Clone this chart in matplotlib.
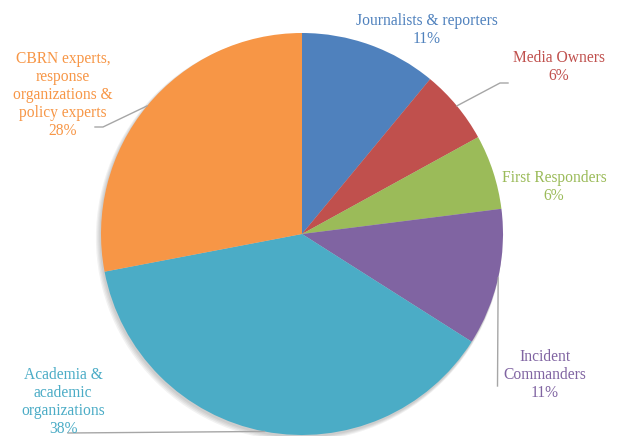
import numpy as np
import matplotlib
matplotlib.use("Agg")
import matplotlib.pyplot as plt
from matplotlib.patches import Circle

labels = ["Journalists & reporters", "Media Owners", "First Responders",
          "Incident\nCommanders", "Academia &\nacademic\norganizations",
          "CBRN experts,\nresponse\norganizations &\npolicy experts"]
values = [11, 6, 6, 11, 38, 28]
colors = ["#4F81BD", "#C0504D", "#9BBB59", "#8064A2", "#4BACC6", "#F79646"]

W, H = 620, 436
fig = plt.figure(figsize=(W / 100, H / 100), dpi=100)
ax = fig.add_axes([0, 0, 1, 1])

cx, cy, R = 302, 202, 201

# soft shadow
for i, a in enumerate([0.05, 0.05, 0.05, 0.05]):
    ax.add_patch(Circle((cx - 1 - i * 0.6, cy - 2 - i * 0.6), R + 0.5 + i * 0.6,
                        facecolor="black", alpha=a, edgecolor="none", zorder=0))

wedges, _ = ax.pie(values, colors=colors, startangle=90, counterclock=False,
                   center=(cx, cy), radius=R, wedgeprops=dict(linewidth=0),
                   frame=True)
ax.set_xlim(0, W)
ax.set_ylim(0, H)
ax.set_aspect("equal")
ax.axis("off")

font = dict(family="Liberation Serif", fontsize=11.2, ha="center", va="center",
            linespacing=1.15)

# label text positions (pixel layout, y measured from top)
label_pos = [(427, 30), (559, 67), (554, 187), (545, 375), (63, 402), (63, 95)]
for w, lab, v, c, (lx, ly) in zip(wedges, labels, values, colors, label_pos):
    ax.text(lx, H - ly, f"{lab}\n{v}%", color=c, **font)

def edge_point(w):
    ang = np.deg2rad((w.theta1 + w.theta2) / 2)
    return cx + R * np.cos(ang), cy + R * np.sin(ang)

lc = "#A6A6A6"
# Media Owners
x0, y0 = edge_point(wedges[1])
ax.plot([x0, 500, 508], [y0, H - 83, H - 83], color=lc, lw=1)
# Incident Commanders
x0, y0 = edge_point(wedges[3])
ax.plot([x0, 497.5], [y0, H - 386], color=lc, lw=1)
# Academia
x0, y0 = edge_point(wedges[4])
ax.plot([x0, 68], [y0, H - 433], color=lc, lw=1)
# CBRN
x0, y0 = edge_point(wedges[5])
ax.plot([x0, 103, 95], [y0, H - 127, H - 127], color=lc, lw=1)

fig.savefig("out.png", dpi=100, facecolor="white")
